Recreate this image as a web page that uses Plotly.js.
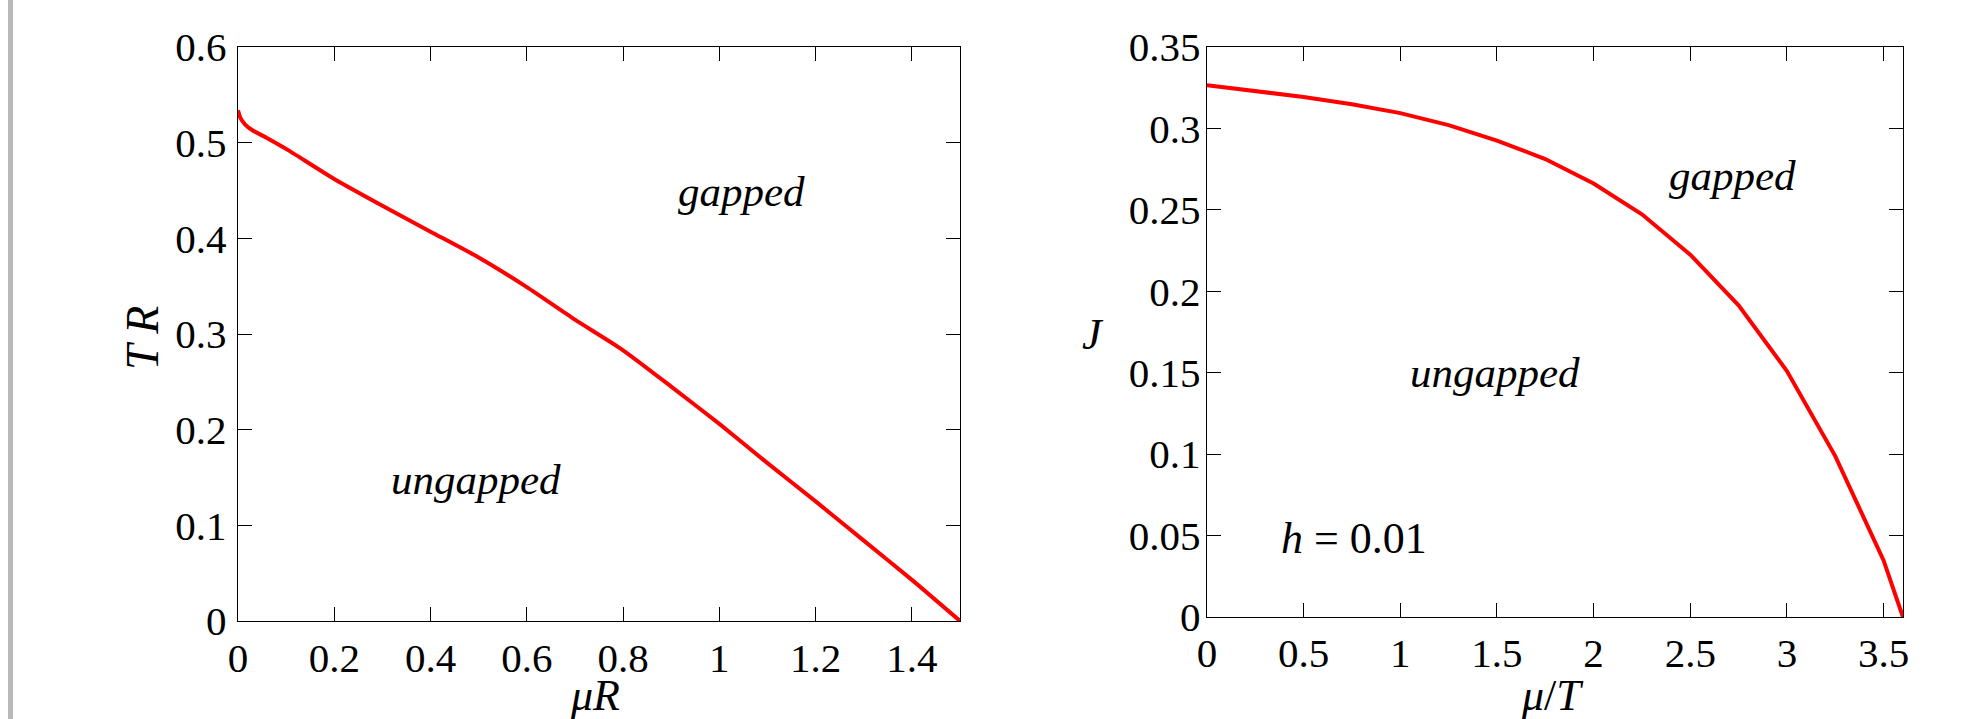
<!DOCTYPE html>
<html>
<head>
<meta charset="utf-8">
<script src="https://cdn.plot.ly/plotly-3.0.1.min.js"></script>
<style>html,body{margin:0;padding:0;background:#fff;}#chart{width:1975px;height:719px;}</style>
</head>
<body>
<div id="chart"></div>
<script>
// Left panel: T R vs mu R
const muR = [0, 0.005, 0.015, 0.03, 0.06, 0.1, 0.2, 0.3, 0.4, 0.5, 0.6, 0.7, 0.8, 0.9, 1.0, 1.1, 1.2, 1.3, 1.4, 1.5];
const TR  = [0.534, 0.526, 0.519, 0.513, 0.505, 0.4935, 0.462, 0.434, 0.407, 0.380, 0.349, 0.315, 0.283, 0.245, 0.206, 0.165, 0.125, 0.084, 0.043, 0];

// Right panel: J vs mu/T at h = 0.01
const muT = [0, 0.25, 0.5, 0.75, 1.0, 1.25, 1.5, 1.75, 2.0, 2.25, 2.5, 2.75, 3.0, 3.25, 3.5, 3.6];
const J   = [0.3266, 0.323, 0.3193, 0.3148, 0.3094, 0.302, 0.2925, 0.2812, 0.2662, 0.2473, 0.2225, 0.1914, 0.151, 0.0988, 0.0347, 0];

const xTicksL = [0, 0.2, 0.4, 0.6, 0.8, 1, 1.2, 1.4];
const yTicksL = [0, 0.1, 0.2, 0.3, 0.4, 0.5, 0.6];
const xTicksR = [0, 0.5, 1, 1.5, 2, 2.5, 3, 3.5];
const yTicksR = [0, 0.05, 0.1, 0.15, 0.2, 0.25, 0.3, 0.35];

const FONT = "'Liberation Serif', 'Times New Roman', serif";

const traces = [
  {x: muR, y: TR, type: 'scatter', mode: 'lines', line: {color: '#ff0000', width: 4, shape: 'spline', smoothing: 0.6},
   xaxis: 'x', yaxis: 'y', showlegend: false, hoverinfo: 'skip'},
  {x: muT, y: J, type: 'scatter', mode: 'lines', line: {color: '#ff0000', width: 4},
   xaxis: 'x2', yaxis: 'y2', showlegend: false, hoverinfo: 'skip'}
];

function ax(extra) {
  return Object.assign({
    showgrid: false, zeroline: false,
    showline: true, linecolor: '#000', linewidth: 1.3,
    mirror: 'ticks', ticks: 'inside', ticklen: 14, tickwidth: 1, tickcolor: '#000',
    tickfont: {family: FONT, size: 41, color: '#000'},
    tickmode: 'array', fixedrange: true
  }, extra);
}

const titleFont = {family: FONT, size: 44, color: '#000'};
function note(extra) {
  return Object.assign({showarrow: false, xanchor: 'center', yanchor: 'middle'}, extra);
}

const layout = {
  width: 1975, height: 719,
  margin: {l: 0, r: 0, t: 0, b: 0},
  paper_bgcolor: '#fff', plot_bgcolor: '#fff',
  font: {family: FONT, color: '#000'},
  xaxis: ax({domain: [0.1205, 0.4861], range: [0, 1.5], tickvals: xTicksL, anchor: 'y'}),
  yaxis: ax({domain: [0.1363, 0.9346], range: [0, 0.6], tickvals: yTicksL, ticklabelstandoff: 2, anchor: 'x'}),
  xaxis2: ax({domain: [0.6111, 0.9635], range: [0, 3.6], tickvals: xTicksR, anchor: 'y2'}),
  yaxis2: ax({domain: [0.1419, 0.9346], range: [0, 0.35], tickvals: yTicksR, ticklabelstandoff: -3, anchor: 'x2'}),
  shapes: [
    {type: 'rect', xref: 'paper', yref: 'paper', x0: 8/1975, x1: 13/1975, y0: 0, y1: 1,
     fillcolor: '#b8b8b8', line: {width: 0}}
  ],
  annotations: [
    // axis titles
    note({xref: 'paper', yref: 'paper', x: 595/1975, y: 1 - 695/719, text: '<i>μR</i>', font: titleFont}),
    note({xref: 'paper', yref: 'paper', x: 142/1975, y: 1 - 338/719, text: '<i>T R</i>', textangle: -90, font: {family: FONT, size: 46}}),
    note({xref: 'paper', yref: 'paper', x: 1552/1975, y: 1 - 695/719, text: '<i>μ</i>/<i>T</i>', font: titleFont}),
    note({xref: 'paper', yref: 'paper', x: 1093/1975, y: 1 - 334/719, text: '<i>J</i>', font: {family: FONT, size: 44}}),
    // region labels
    note({xref: 'x', yref: 'y', x: 1.045, y: 0.449, text: '<i>gapped</i>', font: {family: FONT, size: 43}}),
    note({xref: 'x', yref: 'y', x: 0.494, y: 0.148, text: '<i>ungapped</i>', font: {family: FONT, size: 43}}),
    note({xref: 'x2', yref: 'y2', x: 2.72, y: 0.271, text: '<i>gapped</i>', font: {family: FONT, size: 43}}),
    note({xref: 'x2', yref: 'y2', x: 1.49, y: 0.150, text: '<i>ungapped</i>', font: {family: FONT, size: 43}}),
    note({xref: 'x2', yref: 'y2', x: 0.76, y: 0.048, text: '<i>h</i> = 0.01', font: {family: FONT, size: 44}})
  ]
};

Plotly.newPlot('chart', traces, layout, {displayModeBar: false, staticPlot: true});
</script>
</body>
</html>
